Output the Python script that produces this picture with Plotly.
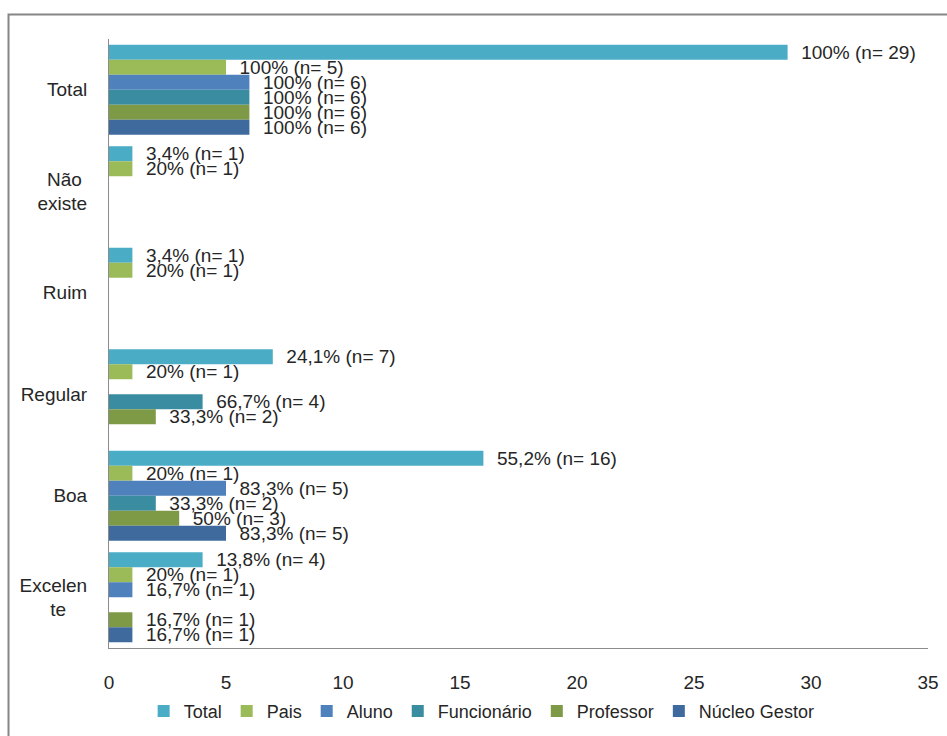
import plotly.graph_objects as go

# Categories, top to bottom
categories = ["Total", "Não\u00a0<br>existe", "Ruim", "Regular", "Boa", "Excelen<br>te\u00a0\u00a0\u00a0\u00a0"]

series_names = ["Total", "Pais", "Aluno", "Funcionário", "Professor", "Núcleo Gestor"]

# Counts (n) per category for each respondent group
total_n = [29, 1, 1, 7, 16, 4]
pais_n = [5, 1, 1, 1, 1, 1]
aluno_n = [6, 0, 0, 0, 5, 1]
funcionario_n = [6, 0, 0, 4, 2, 0]
professor_n = [6, 0, 0, 2, 3, 1]
gestor_n = [6, 0, 0, 0, 5, 1]

# Percentages shown in the data labels
total_pct = ["100", "3,4", "3,4", "24,1", "55,2", "13,8"]
pais_pct = ["100", "20", "20", "20", "20", "20"]
aluno_pct = ["100", "", "", "", "83,3", "16,7"]
funcionario_pct = ["100", "", "", "66,7", "33,3", ""]
professor_pct = ["100", "", "", "33,3", "50", "16,7"]
gestor_pct = ["100", "", "", "", "83,3", "16,7"]

colors = ["#4BACC6", "#9BBB59", "#4F81BD", "#3A8CA1", "#7E9A47", "#3E6A9E"]

values = [total_n, pais_n, aluno_n, funcionario_n, professor_n, gestor_n]
pcts = [total_pct, pais_pct, aluno_pct, funcionario_pct, professor_pct, gestor_pct]

FONT = "Liberation Sans, Arial, sans-serif"
TXT = "#262626"
PAD = "\u00a0\u00a0"

fig = go.Figure()
for name, vals, pct, col in zip(series_names, values, pcts, colors):
    labels = [f"{PAD}{p}% (n= {v})" if v > 0 else "" for v, p in zip(vals, pct)]
    fig.add_trace(go.Bar(
        name=name,
        y=categories,
        x=vals,
        orientation="h",
        marker=dict(color=col, line=dict(width=0)),
        text=labels,
        textposition="outside",
        constraintext="none",
        cliponaxis=False,
        textfont=dict(family=FONT, size=19, color=TXT),
    ))

fig.update_layout(
    width=947,
    height=736,
    margin=dict(l=109, r=19, t=39, b=88, autoexpand=False),
    paper_bgcolor="white",
    plot_bgcolor="white",
    barmode="group",
    bargap=0.113,
    bargroupgap=0,
    font=dict(family=FONT, size=19, color=TXT),
    showlegend=True,
    legend=dict(
        orientation="h",
        x=0.455,
        xanchor="center",
        y=-0.104,
        yanchor="middle",
        bgcolor="rgba(0,0,0,0)",
        font=dict(family=FONT, size=18, color=TXT),
        traceorder="normal",
    ),
    xaxis=dict(
        range=[0, 35],
        dtick=5,
        showgrid=False,
        zeroline=False,
        showline=True,
        linecolor="#8c8c8c",
        linewidth=1,
        ticks="",
        ticklabelstandoff=17,
        tickfont=dict(family=FONT, size=19, color=TXT),
    ),
    yaxis=dict(
        autorange="reversed",
        showgrid=False,
        showline=True,
        linecolor="#8c8c8c",
        linewidth=1,
        ticks="",
        ticklabelstandoff=17,
        tickfont=dict(family=FONT, size=19, color=TXT),
    ),
    shapes=[
        dict(
            type="rect", xref="paper", yref="paper",
            x0=-0.1227, x1=1.04, y0=-0.17, y1=1.0402,
            line=dict(color="#868686", width=2),
            fillcolor="rgba(0,0,0,0)",
            layer="below",
        )
    ],
)

fig.write_html("out.html")
